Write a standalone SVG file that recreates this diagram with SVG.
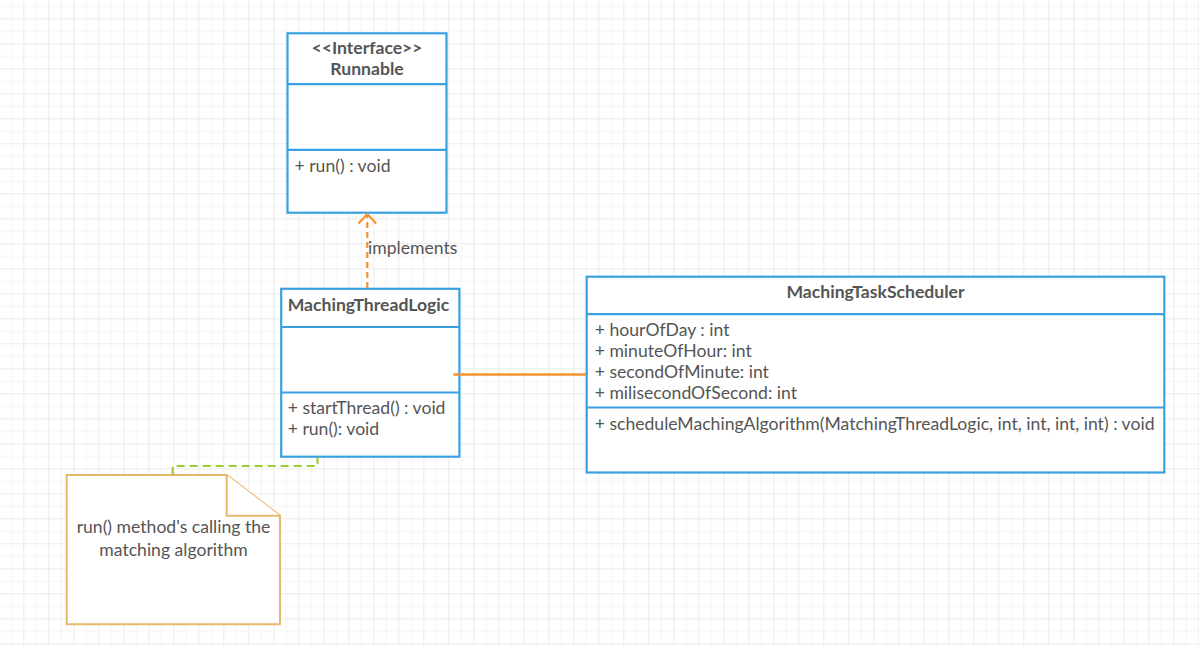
<svg xmlns="http://www.w3.org/2000/svg" width="1199" height="646" viewBox="0 0 1199 646">
  <defs>
    <!-- background grid: light lines every 12.5px, slightly darker every 25px -->
    <pattern id="grid" x="-1.7" y="-6.7" width="25" height="25" patternUnits="userSpaceOnUse">
      <rect x="0" y="0" width="1" height="25" fill="#ebebeb"/>
      <rect x="12.5" y="0" width="1" height="25" fill="#f3f3f3"/>
      <rect x="0" y="0" width="25" height="1" fill="#ebebeb"/>
      <rect x="0" y="12.5" width="25" height="1" fill="#f3f3f3"/>
    </pattern>
    <style>
      .box { fill: #ffffff; stroke: #3aa0e0; stroke-width: 2.2; }
      .div { stroke: #3aa0e0; stroke-width: 2.2; fill: none; }
      .t { font-family: Lato, "Liberation Sans", sans-serif; font-size: 17.6px; fill: #555555; }
      .b { font-weight: bold; }
      .c { text-anchor: middle; }
      .note { fill: #ffffff; stroke: #e6b86a; stroke-width: 2; stroke-linejoin: miter; }
    </style>
  </defs>

  <rect x="0" y="0" width="1199" height="646" fill="#ffffff"/>
  <rect x="0" y="0" width="1199" height="646" fill="url(#grid)"/>

  <!-- Runnable interface -->
  <g id="runnable">
    <rect class="box" x="287.5" y="33.3" width="159" height="179.4"/>
    <line class="div" x1="287.5" y1="84.2" x2="446.5" y2="84.2"/>
    <line class="div" x1="287.5" y1="149.8" x2="446.5" y2="149.8"/>
    <text class="t b c" x="367" y="54">&lt;&lt;Interface&gt;&gt;</text>
    <text class="t b c" x="367" y="75">Runnable</text>
    <text class="t" x="294.5" y="171.5">+ run() : void</text>
  </g>

  <!-- MachingThreadLogic class -->
  <g id="maching-thread-logic">
    <rect class="box" x="281.2" y="288.8" width="178.2" height="167.9"/>
    <line class="div" x1="281.2" y1="327" x2="459.4" y2="327"/>
    <line class="div" x1="281.2" y1="392.5" x2="459.4" y2="392.5"/>
    <text class="t b" x="287.7" y="310.8">MachingThreadLogic</text>
    <text class="t" x="287.7" y="414">+ startThread() : void</text>
    <text class="t" x="287.7" y="434.8">+ run(): void</text>
  </g>

  <!-- MachingTaskScheduler class -->
  <g id="maching-task-scheduler">
    <rect class="box" x="586.7" y="276.7" width="577.6" height="195.8"/>
    <line class="div" x1="586.7" y1="314.2" x2="1164.3" y2="314.2"/>
    <line class="div" x1="586.7" y1="407.5" x2="1164.3" y2="407.5"/>
    <text class="t b c" x="875.5" y="297.5">MachingTaskScheduler</text>
    <text class="t" x="594.7" y="336">+ hourOfDay : int</text>
    <text class="t" x="594.7" y="357">+ minuteOfHour: int</text>
    <text class="t" x="594.7" y="377.8">+ secondOfMinute: int</text>
    <text class="t" x="594.7" y="398.7">+ milisecondOfSecond: int</text>
    <text class="t" x="594.7" y="430">+ scheduleMachingAlgorithm(MatchingThreadLogic, int, int, int, int) : void</text>
  </g>

  <!-- comment note -->
  <g id="note">
    <path class="note" d="M66.7,475 H226.7 L280,515.7 V624.3 H66.7 Z"/>
    <path class="note" d="M226.7,475 V515.7 H280" fill="none"/>
    <text class="t c" x="173.5" y="532.5">run() method's calling the</text>
    <text class="t c" x="173.5" y="556">matching algorithm</text>
  </g>

  <!-- connectors -->
  <g id="connectors" fill="none">
    <!-- realization: MachingThreadLogic implements Runnable -->
    <line x1="367.3" y1="288" x2="367.3" y2="215" stroke="#f39230" stroke-width="2.2" stroke-dasharray="6 4"/>
    <polyline points="358.5,223.5 367.3,214 376.2,223.5" stroke="#f39230" stroke-width="2.2"/>
    <text class="t" x="368" y="253.8" fill="#555555">implements</text>
    <!-- association to scheduler -->
    <line x1="453.5" y1="374.5" x2="586" y2="374.5" stroke="#f39230" stroke-width="2.3"/>
    <!-- note anchor -->
    <path d="M172.7,475 V466 H317.5 V457.5" stroke="#9ccd33" stroke-width="2.2" stroke-dasharray="8 5"/>
  </g>
</svg>
